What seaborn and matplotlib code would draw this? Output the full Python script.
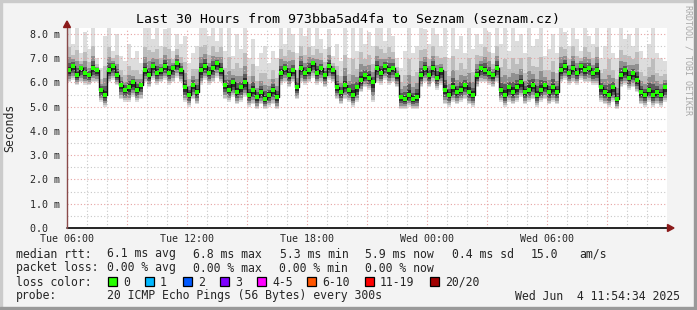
import numpy as np
import pandas as pd
import matplotlib
matplotlib.use("Agg")
import matplotlib.pyplot as plt
import seaborn as sns
from matplotlib.patches import Rectangle, Polygon

# ---------------- data ----------------
step_hours = 0.2  # one sample every 12 minutes, hour 0 = Tue 06:00

median_ms = [
    6.5, 6.7, 6.3, 6.6, 6.4,   6.3, 6.6, 6.5, 5.7, 5.5,
    6.5, 6.7, 6.3, 5.9, 5.7,   5.8, 6.0, 5.7, 5.9, 6.5,
    6.3, 6.7, 6.4, 6.5, 6.7,   6.4, 6.6, 6.8, 6.5, 5.8,
    5.5, 5.9, 5.6, 6.5, 6.7,   6.4, 6.6, 6.8, 6.5, 5.9,
    5.7, 6.0, 5.6, 5.8, 6.0,   5.5, 5.7, 5.4, 5.6, 5.3,
    5.5, 5.7, 5.4, 6.4, 6.6,   6.3, 6.5, 5.8, 6.6, 6.4,
    6.5, 6.8, 6.4, 6.6, 6.3,   6.7, 6.5, 5.8, 5.6, 5.9,
    5.7, 5.5, 5.8, 6.1, 6.3,   6.2, 6.0, 6.6, 6.4, 6.7,
    6.5, 6.6, 6.3, 5.4, 5.3,   5.5, 5.3, 5.4, 6.3, 6.6,
    6.3, 6.6, 6.2, 6.5, 5.7,   5.5, 5.8, 5.6, 5.7, 5.9,
    5.6, 5.5, 6.3, 6.6, 6.5,   6.4, 6.3, 6.6, 5.7, 5.5,
    5.8, 5.6, 5.8, 6.0, 5.6,   5.7, 5.9, 5.5, 5.7, 5.9,
    5.6, 5.8, 5.6, 6.5, 6.7,   6.4, 6.6, 6.4, 6.7, 6.5,
    6.6, 6.4, 6.5, 5.8, 5.6,   5.5, 5.8, 5.3, 6.3, 6.5,
    6.2, 6.4, 6.1, 5.6, 5.5,   5.7, 5.5, 5.6, 5.5, 5.8,
]

low_ms = [
    6.0, 6.1, 5.9, 6.0, 5.9,   5.9, 6.0, 6.0, 5.2, 5.0,
    6.0, 6.1, 5.9, 5.3, 5.2,   5.2, 5.4, 5.2, 5.3, 6.0,
    5.8, 6.1, 5.9, 6.0, 6.1,   5.9, 6.0, 6.2, 6.0, 5.2,
    5.0, 5.3, 5.1, 5.9, 6.1,   5.9, 6.0, 6.2, 6.0, 5.3,
    5.2, 5.4, 5.1, 5.2, 5.4,   5.0, 5.1, 4.9, 5.1, 4.9,
    5.0, 5.1, 4.9, 5.9, 6.0,   5.8, 6.0, 5.3, 6.0, 5.9,
    6.0, 6.2, 5.9, 6.0, 5.8,   6.1, 6.0, 5.3, 5.1, 5.3,
    5.2, 5.0, 5.2, 5.6, 5.8,   5.7, 5.2, 6.0, 5.9, 6.1,
    5.9, 6.0, 5.8, 4.9, 4.9,   5.0, 4.9, 4.9, 5.8, 6.0,
    5.8, 6.0, 5.7, 5.9, 5.1,   5.0, 5.2, 5.1, 5.2, 5.3,
    5.1, 5.0, 5.8, 6.0, 6.0,   5.9, 5.8, 6.0, 5.2, 5.0,
    5.2, 5.1, 5.2, 5.4, 5.1,   5.2, 5.3, 5.0, 5.2, 5.3,
    5.1, 5.2, 5.1, 6.0, 6.1,   5.9, 6.0, 5.9, 6.1, 6.0,
    6.0, 5.9, 5.9, 5.2, 5.1,   5.0, 5.2, 4.9, 5.8, 5.9,
    5.7, 5.8, 5.6, 5.1, 5.0,   5.2, 5.0, 5.1, 5.0, 5.2,
]

high_ms = [
    8.4, 7.6, 8.4, 7.2, 8.1,   7.4, 8.4, 7.0, 6.6, 7.9,
    8.4, 7.3, 8.0, 7.1, 6.9,   7.6, 7.0, 7.3, 6.8, 8.4,
    8.4, 7.8, 8.4, 7.5, 8.2,   8.4, 7.3, 8.0, 7.6, 7.9,
    6.8, 7.2, 7.5, 8.4, 8.4,   7.9, 8.4, 7.7, 8.4, 7.3,
    8.4, 7.1, 8.0, 7.4, 8.4,   7.0, 7.8, 6.7, 7.2, 7.5,
    6.8, 7.3, 7.0, 8.4, 7.6,   8.4, 8.0, 7.2, 8.4, 7.9,
    8.4, 7.5, 8.4, 7.8, 7.4,   8.2, 7.1, 7.6, 6.9, 8.4,
    7.0, 8.4, 7.3, 8.4, 7.6,   8.1, 7.5, 8.4, 8.4, 7.7,
    8.4, 7.9, 7.0, 6.6, 7.3,   8.4, 7.2, 7.5, 8.4, 8.2,
    7.6, 8.4, 8.0, 7.5, 8.4,   7.0, 8.4, 7.4, 7.9, 7.2,
    8.4, 7.4, 8.0, 7.6, 8.4,   8.1, 7.2, 8.4, 7.6, 8.4,
    7.3, 8.4, 7.7, 8.0, 7.2,   8.4, 7.5, 7.8, 8.4, 7.1,
    7.4, 8.0, 7.2, 8.4, 8.1,   7.5, 8.4, 7.8, 7.3, 8.4,
    7.9, 7.6, 8.4, 7.0, 7.5,   8.4, 7.2, 7.0, 8.4, 7.8,
    8.0, 7.5, 8.4, 7.3, 7.0,   7.6, 8.4, 7.2, 7.0, 6.9,
]

x_tick_hours = [0, 6, 12, 18, 24]
x_tick_labels = ["Tue 06:00", "Tue 12:00", "Tue 18:00", "Wed 00:00", "Wed 06:00"]
y_tick_values = [0, 1, 2, 3, 4, 5, 6, 7, 8]
y_tick_labels = ["0.0  ", "1.0 m", "2.0 m", "3.0 m", "4.0 m", "5.0 m", "6.0 m", "7.0 m", "8.0 m"]

loss_labels = ["0", "1", "2", "3", "4-5", "6-10", "11-19", "20/20"]
loss_colors = ["#26ff00", "#00b8ff", "#0059ff", "#7e00ff", "#ff00ff", "#ff5500", "#ff0000", "#a00000"]

title = "Last 30 Hours from 973bba5ad4fa to Seznam (seznam.cz)"

# ---------------- figure ----------------
W, H = 697, 310
sns.set_style("white")
plt.rcParams["font.family"] = ["DejaVu Sans Mono", "DejaVu Sans"]

fig = plt.figure(figsize=(W / 100, H / 100), dpi=100, facecolor="#f3f3f3")
ax = fig.add_axes([67 / W, 82 / H, 600 / W, 200 / H])
ax.set_facecolor("white")

n = len(median_ms)
df = pd.DataFrame({
    "hour": np.arange(n) * step_hours,
    "median": median_ms,
    "low": low_ms,
    "high": high_ms,
})
# extend last step to the right edge for step drawing
edge = pd.concat([df, df.iloc[[-1]].assign(hour=n * step_hours)], ignore_index=True)

xs = edge["hour"].to_numpy()
med = edge["median"].to_numpy()
lo = edge["low"].to_numpy()
hi = edge["high"].to_numpy()

# smoke layers, outer (light) to inner (dark)
layers = [
    (1.00, 1.00, "#dddddd"),
    (0.88, 0.50, "#bdbdbd"),
    (0.70, 0.28, "#909090"),
    (0.50, 0.15, "#5c5c5c"),
    (0.30, 0.07, "#2c2c2c"),
]
for fl, fh, col in layers:
    ax.fill_between(xs, med - fl * (med - lo), med + fh * (hi - med),
                    step="post", color=col, linewidth=0, zorder=2)

# grid (drawn over smoke, like rrdtool)
for h in range(1, 30):
    major = (h % 3 == 0)
    ax.axvline(h, color="#e7a4a4" if major else "#c8c8c8", lw=0.8,
               ls=(0, (1, 2)), zorder=3)
for v in np.arange(0.5, 8.01, 0.5):
    major = float(v).is_integer()
    ax.axhline(v, color="#e7a4a4" if major else "#c8c8c8", lw=0.8,
               ls=(0, (1, 2)), zorder=3)

# median line (black steps) and green loss-colour marks
sns.lineplot(data=edge, x="hour", y="median", drawstyle="steps-post",
             color="#111111", lw=1.0, estimator=None, ax=ax, zorder=4)
dots = df.assign(mid=df["hour"] + step_hours / 2)
sns.scatterplot(data=dots, x="mid", y="median", marker="s", s=5,
                color="#22ff00", linewidth=0, ax=ax, zorder=5)

ax.set_xlim(0, 30)
ax.set_ylim(0, 8.247)
ax.set_xlabel("")
ax.set_ylabel("")
for s in ax.spines.values():
    s.set_visible(False)

ax.set_xticks(x_tick_hours)
ax.set_xticklabels(x_tick_labels, fontsize=7.2)
ax.set_xticks(range(0, 31), minor=True)
ax.set_yticks(y_tick_values)
ax.set_yticklabels(y_tick_labels, fontsize=7.2)
ax.tick_params(axis="x", which="major", length=3, width=0.8, color="#e7a4a4", pad=1.5)
ax.tick_params(axis="x", which="minor", length=2, width=0.8, color="#c8c8c8")
ax.tick_params(axis="y", length=0, pad=5)

# axis lines
ax.axhline(0, color="black", lw=1.2, zorder=6, clip_on=False)
ax.plot([0, 0], [0, 8.247], color="#8a4a4a", lw=1.0, zorder=6, clip_on=False)


def fx(x):
    return x / W


def fy(y):
    return 1 - y / H


# arrows
fig.patches.append(Polygon([(fx(63.5), fy(27.5)), (fx(70.5), fy(27.5)), (fx(67), fy(21))],
                           closed=True, color="#8b1a1a", transform=fig.transFigure, figure=fig))
fig.patches.append(Polygon([(fx(667.5), fy(224.5)), (fx(667.5), fy(231.5)), (fx(674), fy(228))],
                           closed=True, color="#8b1a1a", transform=fig.transFigure, figure=fig))

# frame shading
fig.patches.append(Rectangle((0, fy(2)), 1, 2 / H, color="#cbcbcb", transform=fig.transFigure, figure=fig))
fig.patches.append(Rectangle((0, 0), 2 / W, 1, color="#cbcbcb", transform=fig.transFigure, figure=fig))
fig.patches.append(Rectangle((fx(694), 0), 3 / W, 1, color="#999999", transform=fig.transFigure, figure=fig))
fig.patches.append(Rectangle((0, 0), 1, 3 / H, color="#999999", transform=fig.transFigure, figure=fig))

# texts
fig.text(fx(348), fy(19), title, ha="center", va="center", fontsize=9.5, color="black")
fig.text(fx(10), fy(128), "Seconds", ha="center", va="center", rotation=90, fontsize=8.3)
fig.text(fx(688), fy(60), "RRDTOOL / TOBI OETIKER", ha="center", va="center",
         rotation=270, fontsize=6.0, color="#a8a8a8")

fs = 8.3
rows = [
    (254, [(16, "median rtt:"), (107, "6.1 ms avg"), (193, "6.8 ms max"), (280, "5.3 ms min"),
           (365, "5.9 ms now"), (452, "0.4 ms sd"), (531, "15.0"), (579, "am/s")]),
    (268, [(16, "packet loss:"), (107, "0.00 % avg"), (193, "0.00 % max"), (279, "0.00 % min"),
           (365, "0.00 % now")]),
    (282, [(16, "loss color:")]),
    (296, [(16, "probe:"), (107, "20 ICMP Echo Pings (56 Bytes) every 300s")]),
]
for y, items in rows:
    for x, s in items:
        fig.text(fx(x), fy(y), s, ha="left", va="center", fontsize=fs)
fig.text(fx(680), fy(296), "Wed Jun  4 11:54:34 2025", ha="right", va="center", fontsize=fs)

box_x = [108, 145, 183, 220, 257, 307, 365, 430]
for bx, lab, col in zip(box_x, loss_labels, loss_colors):
    fig.patches.append(Rectangle((fx(bx), fy(286)), 9 / W, 9 / H, facecolor=col,
                                 edgecolor="black", lw=0.9, transform=fig.transFigure, figure=fig))
    fig.text(fx(bx + 15), fy(282), lab, ha="left", va="center", fontsize=fs)

fig.savefig("out.png", dpi=100, facecolor=fig.get_facecolor())
